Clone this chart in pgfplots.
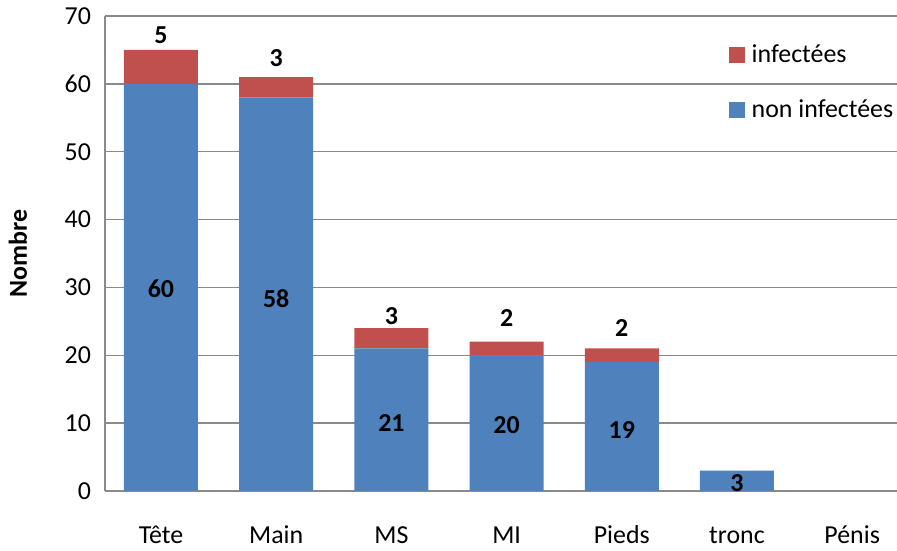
\documentclass[border=0pt]{standalone}
\usepackage{fontspec}
\setmainfont{Carlito}
\usepackage{pgfplots}
\pgfplotsset{compat=1.18}
\definecolor{cblue}{HTML}{4F81BD}
\definecolor{cred}{HTML}{C0504D}
\definecolor{cgrid}{HTML}{8A8A8A}
\begin{document}
\begin{tikzpicture}[font=\fontsize{13}{15.6}\selectfont]
\pgfplotsset{
  common/.style={width=396bp, height=237.5bp, scale only axis,
    xmin=-0.486, xmax=6.389, ymin=0, ymax=70, enlargelimits=false}
}
\begin{axis}[common, ybar stacked, bar width=37bp,
  axis x line*=bottom, axis y line*=left,
  axis line style={draw=cgrid, line width=0.75bp},
  ymajorgrids, grid style={draw=cgrid, line width=0.75bp},
  ytick={0,10,...,70}, xtick={0,...,6},
  xticklabels={Tête,Main,MS,MI,Pieds,tronc,Pénis},
  major tick length=0,
  /pgf/number format/assume math mode=true,
  yticklabel style={xshift=-3.5bp},
  xticklabel style={anchor=base, yshift=-26.5bp},
  ylabel={\textbf{Nombre}},
  every axis y label/.style={at={(rel axis cs:0,0.5)}, xshift=-43.5bp, rotate=90, anchor=center},
  legend style={draw=none, fill=none, at={(0.787,0.955)}, anchor=north west,
    row sep=10bp, legend cell align=left, inner sep=0pt, nodes={inner sep=3.5bp}},
  reverse legend,
  legend image code/.code={\fill[#1] (0bp,-4bp) rectangle (8bp,4bp);},
]
\addplot[fill=cblue, draw=none] coordinates {(0,60)(1,58)(2,21)(3,20)(4,19)(5,3)};
\addplot[fill=cred, draw=none] coordinates {(0,5)(1,3)(2,3)(3,2)(4,2)(5,0)};
\legend{non infectées, infectées}
\coordinate (SW) at (rel axis cs:0,0);
\coordinate (NE) at (rel axis cs:1,1);
\end{axis}
\begin{axis}[common, hide axis,
  nodes near coords, point meta=explicit symbolic,
  nodes near coords align=center,
  nodes near coords style={font=\bfseries\fontsize{13}{15.6}\selectfont, anchor=center}]
\addplot[draw=none, mark=none] coordinates {(0,29.8)[60] (1,28.4)[58] (2,10.0)[21] (3,9.7)[20] (4,9.0)[19] (5,1.2)[3]};
\addplot[draw=none, mark=none] coordinates {(0,67.2)[5] (1,63.8)[3] (2,25.8)[3] (3,25.5)[2] (4,24.0)[2]};
\end{axis}
\pgfresetboundingbox
\path[use as bounding box] ([xshift=-52.5bp, yshift=-30bp]SW) rectangle ([yshift=8bp]NE);
\end{tikzpicture}
\end{document}
